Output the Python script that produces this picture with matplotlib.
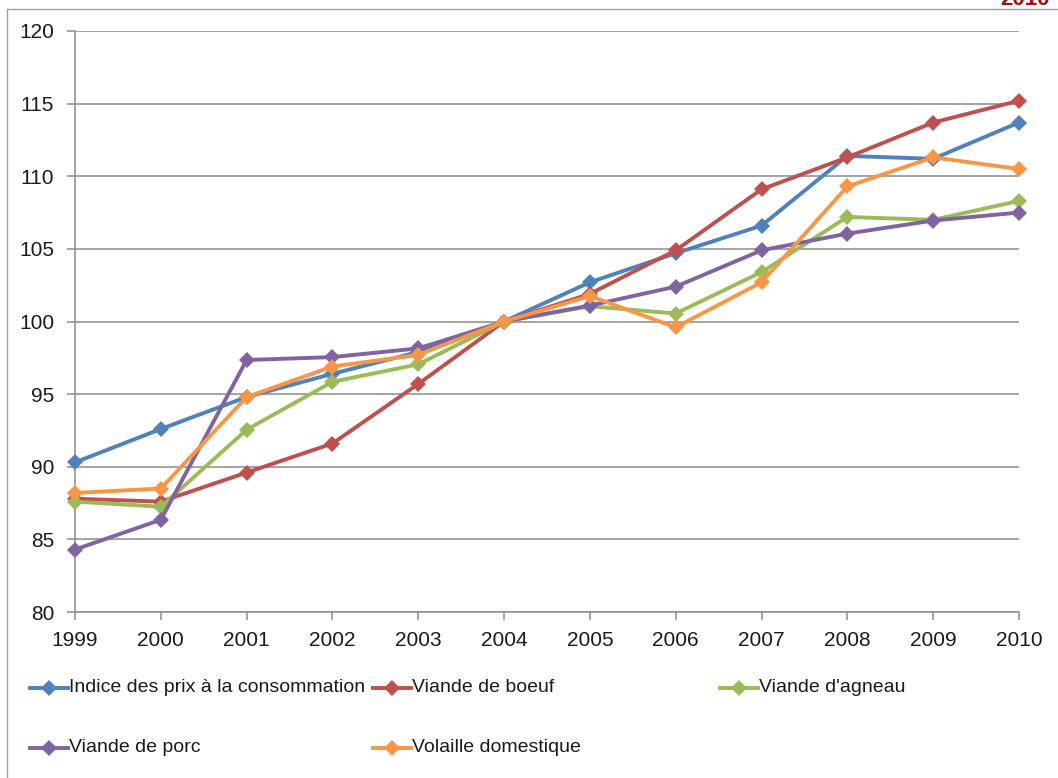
import matplotlib
matplotlib.use("Agg")
import matplotlib.pyplot as plt
from matplotlib.lines import Line2D
from matplotlib.patches import Rectangle

years = [1999, 2000, 2001, 2002, 2003, 2004, 2005, 2006, 2007, 2008, 2009, 2010]
cpi = [90.3, 92.6, 94.8, 96.4, 97.9, 100.0, 102.7, 104.7, 106.6, 111.4, 111.2, 113.7]
boeuf = [87.8, 87.6, 89.6, 91.6, 95.7, 100.0, 101.9, 104.9, 109.1, 111.3, 113.7, 115.2]
agneau = [87.6, 87.25, 92.55, 95.85, 97.05, 100.0, 101.05, 100.55, 103.4, 107.2, 107.0, 108.3]
porc = [84.3, 86.35, 97.35, 97.55, 98.15, 100.0, 101.1, 102.4, 104.9, 106.05, 106.95, 107.5]
volaille = [88.2, 88.5, 94.8, 96.9, 97.7, 100.0, 101.75, 99.6, 102.7, 109.3, 111.3, 110.5]

labels = ["Indice des prix à la consommation", "Viande de boeuf", "Viande d'agneau",
          "Viande de porc", "Volaille domestique"]
colors = ["#4F81BD", "#C0504D", "#9BBB59", "#8064A2", "#F79646"]
series = [cpi, boeuf, agneau, porc, volaille]
yticks = [80, 85, 90, 95, 100, 105, 110, 115, 120]

W, H = 1058, 778
fig = plt.figure(figsize=(W / 100, H / 100), dpi=100)
tickfont = ["Liberation Sans", "DejaVu Sans"]
legfont = ["Liberation Sans", "DejaVu Sans"]

# outer frame
fig.patches.append(Rectangle((7 / W, -0.1), 1.2, 1 - 9 / H + 0.1, transform=fig.transFigure,
                             fill=False, edgecolor="#a0a0a0", linewidth=1.0))

ax = fig.add_axes([75 / W, 1 - 612 / H, (1019 - 75) / W, (612 - 31) / H])
for s, c, lab in zip(series, colors, labels):
    ax.plot(years, s, color=c, linewidth=2.8, marker="D", markersize=8.5,
            markeredgewidth=0, label=lab, zorder=3, clip_on=False)

ax.set_xlim(1999, 2010)
ax.set_ylim(80, 120)
ax.set_xticks(years)
ax.set_yticks(yticks)
ax.set_yticklabels([str(v) for v in yticks], family=tickfont, fontsize=15, color="#1a1a1a")
ax.set_xticklabels([str(v) for v in years], family=tickfont, fontsize=15, color="#1a1a1a")
ax.yaxis.grid(True, color="#8c8c8c", linewidth=1.1, zorder=0)
ax.set_axisbelow(True)
for sp in ["top", "right"]:
    ax.spines[sp].set_visible(False)
for sp in ["left", "bottom"]:
    ax.spines[sp].set_color("#8c8c8c")
    ax.spines[sp].set_linewidth(1.1)
ax.tick_params(axis="both", direction="out", length=6, width=1.1, color="#8c8c8c")
ax.tick_params(axis="y", pad=9)
ax.tick_params(axis="x", pad=8)

# legend laid out like the spreadsheet legend
pos = [(30, 688), (373, 688), (720, 688), (30, 748), (373, 748)]
for (x0, y0), c, lab in zip(pos, colors, labels):
    yf = 1 - y0 / H
    fig.add_artist(Line2D([x0 / W, (x0 + 38) / W], [yf, yf], transform=fig.transFigure,
                          color=c, linewidth=2.8))
    fig.add_artist(Line2D([(x0 + 19) / W], [yf], transform=fig.transFigure, color=c,
                          marker="D", markersize=8, markeredgewidth=0))
    fig.text((x0 + 39) / W, yf, lab, family=legfont, fontsize=14, color="#1a1a1a",
             va="center", ha="left")

fig.text(1050 / W, 1 - 5 / H, "2010", color="#9b1111", fontsize=16, fontweight="bold",
         ha="right", va="baseline", family=tickfont)

fig.savefig("out.png", dpi=100)
